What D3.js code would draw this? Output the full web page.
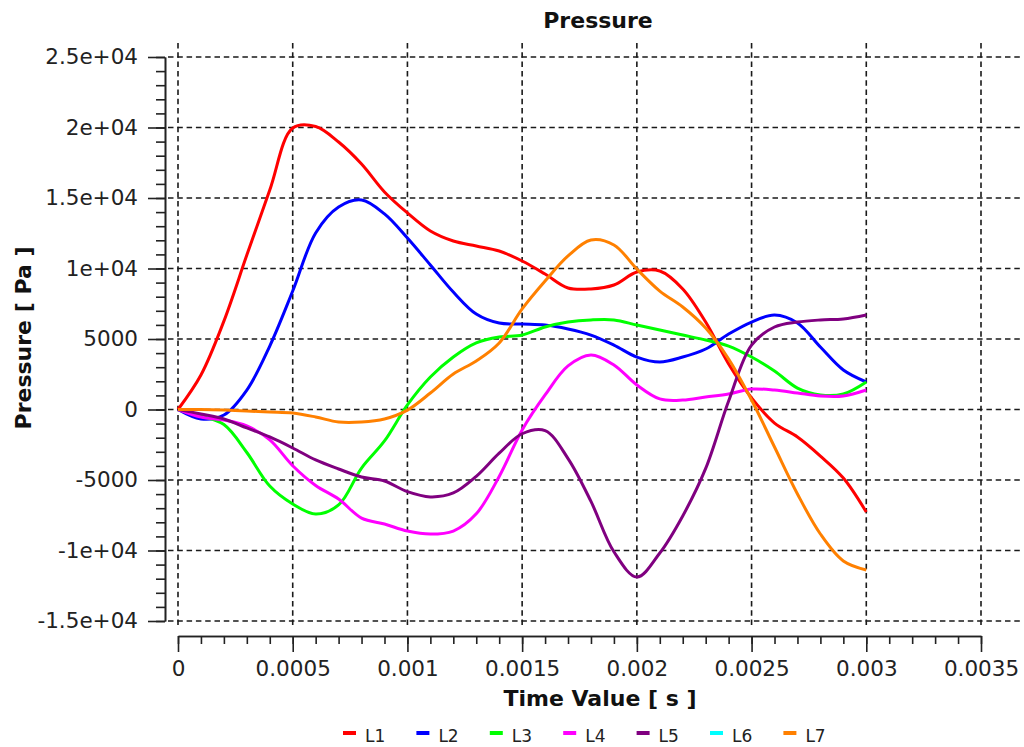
<!DOCTYPE html>
<html>
<head>
<meta charset="utf-8">
<script src="https://cdn.jsdelivr.net/npm/d3@7"></script>
<style>
  body { margin: 0; background: #fff; }
  svg { display: block; font-family: "DejaVu Sans", sans-serif; }
</style>
</head>
<body>
<svg id="chart" width="1024" height="747"></svg>
<script>
// time samples, every 1e-4 s
var times = d3.range(0, 31).map(function (i) { return i * 0.0001 })

var seriesNames = ['L1', 'L2', 'L3', 'L4', 'L5', 'L6', 'L7']
var seriesColors = ['#ff0000', '#0000ff', '#00ff00', '#ff00ff', '#800080', '#00ffff', '#ff8000']

var L1 = [0, 2450, 6270, 10950, 15570, 19960, 20070, 18970, 17410, 15430, 13940, 12660, 11950, 11600, 11240, 10530,
  9610, 8620, 8550, 8830, 9750, 9820, 8550, 6200, 3230, 820, -960, -1950, -3300, -4860, -7270]
var L2 = [0, -670, -390, 1380, 4500, 8400, 12520, 14360, 14860, 13870, 12160, 10250, 8330, 6770, 6130, 6060,
  5990, 5710, 5280, 4570, 3720, 3370, 3720, 4290, 5350, 6200, 6700, 6140, 4430, 2800, 1950]
var L3 = [0, -460, -1070, -3050, -5430, -6700, -7410, -6770, -4150, -2230, 320, 2300, 3720, 4720, 5140, 5280,
  5850, 6200, 6350, 6350, 5990, 5640, 5280, 4930, 4500, 3720, 2730, 1520, 1030, 1100, 1950]
var L4 = [0, -530, -750, -1170, -2160, -3990, -5390, -6350, -7700, -8120, -8620, -8830, -8620, -7400, -4750, -1450,
  1030, 3090, 3870, 3160, 1740, 750, 670, 890, 1100, 1450, 1380, 1170, 960, 960, 1380]
var L5 = [0, -320, -670, -1310, -1950, -2730, -3580, -4220, -4790, -5070, -5830, -6200, -5920, -4740, -3100, -1720,
  -1500, -3480, -6520, -10090, -11880, -10180, -7550, -4180, 600, 4570, 5850, 6200, 6350, 6420, 6700]
var L6 = []
var L7 = [0, 0, -40, -110, -180, -250, -530, -890, -890, -670, -40, 1170, 2520, 3440, 4720, 7130,
  9110, 10890, 12020, 11670, 9960, 8400, 7270, 5780, 3580, 670, -2660, -5990, -8830, -10740, -11380]

var xTicks = [0, 0.0005, 0.001, 0.0015, 0.002, 0.0025, 0.003, 0.0035]
var xTickLabels = ['0', '0.0005', '0.001', '0.0015', '0.002', '0.0025', '0.003', '0.0035']
var yTicks = [25000, 20000, 15000, 10000, 5000, 0, -5000, -10000, -15000]
var yTickLabels = ['2.5e+04', '2e+04', '1.5e+04', '1e+04', '5000', '0', '-5000', '-1e+04', '-1.5e+04']

var allSeries = [L1, L2, L3, L4, L5, L6, L7]

var svg = d3.select('#chart')

var x = d3.scaleLinear().domain([0, 0.0035]).range([178, 981])
var y = d3.scaleLinear().domain([-15000, 25000]).range([621, 57])

// dashed grid
var grid = svg.append('g').attr('stroke', '#1a1a1a').attr('stroke-width', 1.6).attr('stroke-dasharray', '5.5,3.8')
grid.selectAll('line.h').data(yTicks).enter().append('line')
  .attr('x1', 168).attr('x2', 1022)
  .attr('y1', function (d) { return y(d) }).attr('y2', function (d) { return y(d) })
grid.selectAll('line.v').data(xTicks).enter().append('line')
  .attr('y1', 43).attr('y2', 626)
  .attr('x1', function (d) { return x(d) }).attr('x2', function (d) { return x(d) })

// y axis: minor then major
var yMinor = d3.range(-15000, 25001, 1000)
svg.append('g').attr('transform', 'translate(165,0)')
  .call(d3.axisLeft(y).tickValues(yMinor).tickSize(9).tickSizeOuter(0).tickFormat(''))
svg.append('g').attr('class', 'yaxis').attr('transform', 'translate(165,0)')
  .call(d3.axisLeft(y).tickValues(yTicks).tickSize(17).tickSizeOuter(0).tickPadding(10)
    .tickFormat(function (d, i) { return yTickLabels[i] }))

// x axis
var xMinor = d3.range(0, 36).map(function (i) { return i * 0.0001 })
svg.append('g').attr('transform', 'translate(0,636)')
  .call(d3.axisBottom(x).tickValues(xMinor).tickSize(8).tickSizeOuter(0).tickFormat(''))
svg.append('g').attr('class', 'xaxis').attr('transform', 'translate(0,636)')
  .call(d3.axisBottom(x).tickValues(xTicks).tickSize(16).tickSizeOuter(0).tickPadding(9)
    .tickFormat(function (d, i) { return xTickLabels[i] }))

svg.selectAll('.domain, .tick line').attr('stroke', '#222').attr('stroke-width', 1.6)
svg.selectAll('.tick text').attr('fill', '#222')
  .style('font-family', '"DejaVu Sans", sans-serif').style('font-size', '21.5px')

// lines
var line = d3.line()
  .x(function (d) { return x(d[0]) })
  .y(function (d) { return y(d[1]) })
  .curve(d3.curveCatmullRom)

allSeries.forEach(function (vals, i) {
  if (!vals.length) return
  svg.append('path')
    .datum(vals.map(function (v, j) { return [times[j], v] }))
    .attr('fill', 'none')
    .attr('stroke', seriesColors[i])
    .attr('stroke-width', 3)
    .attr('stroke-linejoin', 'round')
    .attr('d', line)
})

// titles
svg.append('text').attr('x', 598).attr('y', 28).attr('text-anchor', 'middle')
  .style('font-size', '22px').style('font-weight', 'bold').attr('fill', '#111').text('Pressure')
svg.append('text').attr('x', 600).attr('y', 706).attr('text-anchor', 'middle')
  .style('font-size', '22px').style('font-weight', 'bold').attr('fill', '#111').text('Time Value [ s ]')
svg.append('text').attr('transform', 'translate(31,338) rotate(-90)').attr('text-anchor', 'middle')
  .style('font-size', '22px').style('font-weight', 'bold').attr('fill', '#111').text('Pressure [ Pa ]')

// legend
var legend = svg.selectAll('g.leg').data(seriesNames).enter().append('g')
  .attr('transform', function (d, i) { return 'translate(' + (343 + i * 73.4) + ',733)' })
legend.append('line').attr('x1', 0).attr('x2', 13).attr('y1', 0).attr('y2', 0)
  .attr('stroke', function (d, i) { return seriesColors[i] }).attr('stroke-width', 4)
legend.append('text').attr('x', 22).attr('y', 9).style('font-size', '17px').attr('fill', '#222')
  .text(function (d) { return d })
</script>
</body>
</html>
